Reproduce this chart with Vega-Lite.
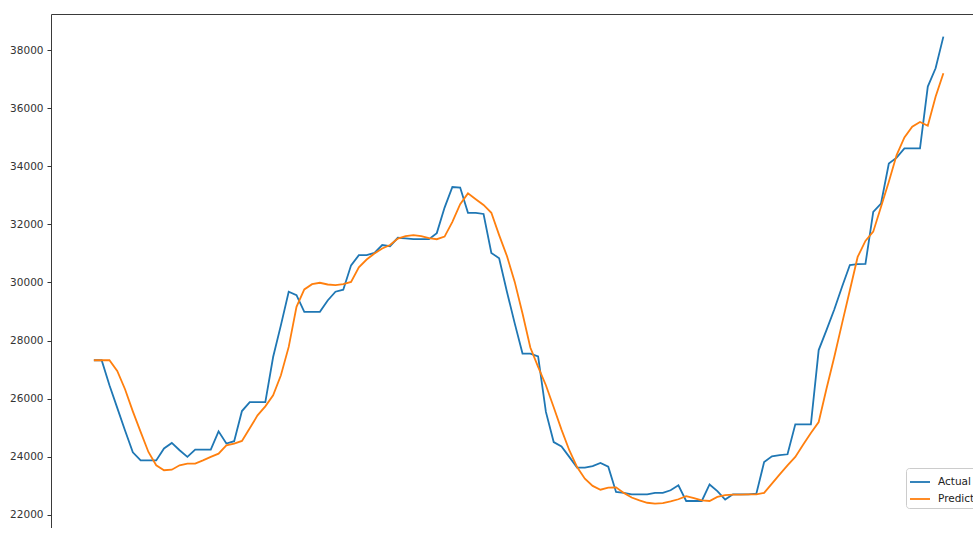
{
  "$schema": "https://vega.github.io/schema/vega-lite/v6.json",
  "width": 922,
  "height": 514,
  "autosize": {"type": "none"},
  "padding": {"left": 51, "top": 14, "right": 0, "bottom": 0},
  "background": "white",
  "config": {"view": {"stroke": "#3a3a3a", "strokeWidth": 1}, "font": "DejaVu Sans"},
  "data": {"values": [
    {"i":0,"Actual":27320,"Predicted":27320},
    {"i":1,"Actual":27320,"Predicted":27320},
    {"i":2,"Actual":26460,"Predicted":27320},
    {"i":3,"Actual":25680,"Predicted":26950},
    {"i":4,"Actual":24900,"Predicted":26320},
    {"i":5,"Actual":24150,"Predicted":25560},
    {"i":6,"Actual":23870,"Predicted":24850},
    {"i":7,"Actual":23870,"Predicted":24160},
    {"i":8,"Actual":23870,"Predicted":23700},
    {"i":9,"Actual":24280,"Predicted":23530},
    {"i":10,"Actual":24470,"Predicted":23550},
    {"i":11,"Actual":24220,"Predicted":23700},
    {"i":12,"Actual":23990,"Predicted":23760},
    {"i":13,"Actual":24240,"Predicted":23760},
    {"i":14,"Actual":24240,"Predicted":23870},
    {"i":15,"Actual":24240,"Predicted":23990},
    {"i":16,"Actual":24870,"Predicted":24100},
    {"i":17,"Actual":24450,"Predicted":24390},
    {"i":18,"Actual":24530,"Predicted":24450},
    {"i":19,"Actual":25570,"Predicted":24540},
    {"i":20,"Actual":25880,"Predicted":24980},
    {"i":21,"Actual":25880,"Predicted":25420},
    {"i":22,"Actual":25880,"Predicted":25730},
    {"i":23,"Actual":27430,"Predicted":26110},
    {"i":24,"Actual":28530,"Predicted":26800},
    {"i":25,"Actual":29680,"Predicted":27780},
    {"i":26,"Actual":29560,"Predicted":29160},
    {"i":27,"Actual":28990,"Predicted":29760},
    {"i":28,"Actual":28990,"Predicted":29940},
    {"i":29,"Actual":28990,"Predicted":29990},
    {"i":30,"Actual":29380,"Predicted":29930},
    {"i":31,"Actual":29680,"Predicted":29910},
    {"i":32,"Actual":29750,"Predicted":29940},
    {"i":33,"Actual":30590,"Predicted":30020},
    {"i":34,"Actual":30940,"Predicted":30520},
    {"i":35,"Actual":30940,"Predicted":30790},
    {"i":36,"Actual":31020,"Predicted":31000},
    {"i":37,"Actual":31290,"Predicted":31170},
    {"i":38,"Actual":31250,"Predicted":31290},
    {"i":39,"Actual":31540,"Predicted":31510},
    {"i":40,"Actual":31520,"Predicted":31600},
    {"i":41,"Actual":31490,"Predicted":31630},
    {"i":42,"Actual":31490,"Predicted":31600},
    {"i":43,"Actual":31490,"Predicted":31530},
    {"i":44,"Actual":31700,"Predicted":31490},
    {"i":45,"Actual":32580,"Predicted":31580},
    {"i":46,"Actual":33290,"Predicted":32090},
    {"i":47,"Actual":33270,"Predicted":32700},
    {"i":48,"Actual":32400,"Predicted":33070},
    {"i":49,"Actual":32400,"Predicted":32870},
    {"i":50,"Actual":32360,"Predicted":32670},
    {"i":51,"Actual":31020,"Predicted":32400},
    {"i":52,"Actual":30830,"Predicted":31630},
    {"i":53,"Actual":29680,"Predicted":30910},
    {"i":54,"Actual":28590,"Predicted":30020},
    {"i":55,"Actual":27550,"Predicted":28930},
    {"i":56,"Actual":27550,"Predicted":27760},
    {"i":57,"Actual":27450,"Predicted":27090},
    {"i":58,"Actual":25540,"Predicted":26460},
    {"i":59,"Actual":24500,"Predicted":25700},
    {"i":60,"Actual":24350,"Predicted":24930},
    {"i":61,"Actual":23990,"Predicted":24220},
    {"i":62,"Actual":23620,"Predicted":23640},
    {"i":63,"Actual":23620,"Predicted":23240},
    {"i":64,"Actual":23670,"Predicted":22990},
    {"i":65,"Actual":23780,"Predicted":22860},
    {"i":66,"Actual":23650,"Predicted":22930},
    {"i":67,"Actual":22780,"Predicted":22940},
    {"i":68,"Actual":22750,"Predicted":22750},
    {"i":69,"Actual":22700,"Predicted":22590},
    {"i":70,"Actual":22700,"Predicted":22490},
    {"i":71,"Actual":22700,"Predicted":22410},
    {"i":72,"Actual":22750,"Predicted":22380},
    {"i":73,"Actual":22750,"Predicted":22400},
    {"i":74,"Actual":22840,"Predicted":22460},
    {"i":75,"Actual":23010,"Predicted":22530},
    {"i":76,"Actual":22470,"Predicted":22640},
    {"i":77,"Actual":22470,"Predicted":22570},
    {"i":78,"Actual":22470,"Predicted":22490},
    {"i":79,"Actual":23040,"Predicted":22470},
    {"i":80,"Actual":22810,"Predicted":22610},
    {"i":81,"Actual":22520,"Predicted":22670},
    {"i":82,"Actual":22700,"Predicted":22690},
    {"i":83,"Actual":22700,"Predicted":22690},
    {"i":84,"Actual":22700,"Predicted":22700},
    {"i":85,"Actual":22720,"Predicted":22700},
    {"i":86,"Actual":23810,"Predicted":22750},
    {"i":87,"Actual":24010,"Predicted":23070},
    {"i":88,"Actual":24050,"Predicted":23390},
    {"i":89,"Actual":24080,"Predicted":23700},
    {"i":90,"Actual":25110,"Predicted":23990},
    {"i":91,"Actual":25110,"Predicted":24410},
    {"i":92,"Actual":25110,"Predicted":24810},
    {"i":93,"Actual":27670,"Predicted":25190},
    {"i":94,"Actual":28360,"Predicted":26340},
    {"i":95,"Actual":29070,"Predicted":27430},
    {"i":96,"Actual":29850,"Predicted":28590},
    {"i":97,"Actual":30600,"Predicted":29730},
    {"i":98,"Actual":30630,"Predicted":30880},
    {"i":99,"Actual":30640,"Predicted":31430},
    {"i":100,"Actual":32430,"Predicted":31750},
    {"i":101,"Actual":32720,"Predicted":32610},
    {"i":102,"Actual":34100,"Predicted":33470},
    {"i":103,"Actual":34300,"Predicted":34390},
    {"i":104,"Actual":34620,"Predicted":35000},
    {"i":105,"Actual":34620,"Predicted":35370},
    {"i":106,"Actual":34620,"Predicted":35530},
    {"i":107,"Actual":36750,"Predicted":35400},
    {"i":108,"Actual":37380,"Predicted":36400},
    {"i":109,"Actual":38470,"Predicted":37210}
  ]},
  "transform": [{"fold": ["Actual", "Predicted"], "as": ["series", "value"]}],
  "mark": {"type": "line", "strokeWidth": 1.8, "clip": true},
  "encoding": {
    "x": {
      "field": "i", "type": "quantitative",
      "scale": {"domain": [-5.5, 112.8], "nice": false, "zero": false},
      "axis": {"values": [0, 20, 40, 60, 80, 100], "format": "d", "grid": false, "domain": false, "tickColor": "#333", "tickSize": 4, "labelFontSize": 10.5, "labelColor": "#333", "labelPadding": 2, "title": null}
    },
    "y": {
      "field": "value", "type": "quantitative",
      "scale": {"domain": [21540, 39250], "nice": false, "zero": false},
      "axis": {"values": [22000, 24000, 26000, 28000, 30000, 32000, 34000, 36000, 38000], "format": "d", "grid": false, "domain": false, "tickColor": "#333", "tickSize": 4, "labelFontSize": 10.5, "labelColor": "#333", "labelPadding": 4, "title": null}
    },
    "color": {
      "field": "series", "type": "nominal",
      "scale": {"domain": ["Actual", "Predicted"], "range": ["#1f77b4", "#ff7f0e"]},
      "legend": {
        "title": null, "orient": "none", "legendX": 855, "legendY": 454,
        "symbolType": "stroke", "symbolSize": 400, "symbolStrokeWidth": 1.8,
        "labelFontSize": 10.5, "labelColor": "#222", "labelOffset": 7,
        "strokeColor": "#cccccc", "fillColor": "white", "cornerRadius": 3,
        "padding": 3, "rowPadding": -5
      }
    }
  }
}
